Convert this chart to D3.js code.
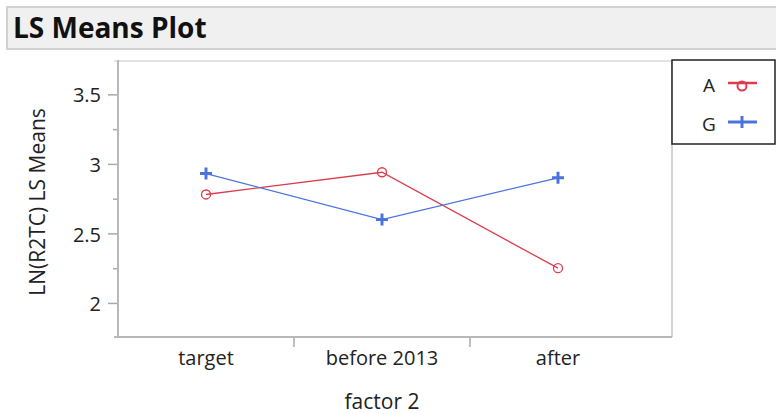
<!DOCTYPE html>
<html><head><meta charset="utf-8">
<script src="https://cdn.jsdelivr.net/npm/d3@7"></script>
<style>
body{margin:0;background:#fff;}
svg{display:block;font-family:"Open Sans",sans-serif;}
</style></head>
<body><svg id="c" width="776" height="414"></svg>
<script>
const categories = ["target", "before 2013", "after"];
const seriesNames = ["A", "G"];
const valuesA = [2.78, 2.94, 2.25];
const valuesG = [2.93, 2.60, 2.90];
const yTicks = [2, 2.5, 3, 3.5];
const yMinorTicks = [2.25, 2.75, 3.25];
const colors = {A: "#dc3c4c", G: "#4a74dc"};

(function(){
const svg = d3.select("#c");

// header bar
svg.append("rect").attr("x",7).attr("y",7).attr("width",775).attr("height",42)
  .attr("fill","#f0f0f0").attr("stroke","#d2d2d2").attr("stroke-width",2);
svg.append("text").attr("x",13).attr("y",38).attr("font-size",28).attr("font-weight","bold")
  .attr("fill","#111").text("LS Means Plot");

const pL = 118, pR = 672, pT = 61, pB = 337, bandRight = 646;
const x = d3.scaleBand().domain(categories).range([pL, bandRight]);
const y = d3.scaleLinear().domain([1.755, 3.74]).range([pB, pT]);

// frame
svg.append("line").attr("x1",114).attr("x2",pR).attr("y1",pT).attr("y2",pT).attr("stroke","#d8d8d8").attr("stroke-width",1.5);
svg.append("line").attr("x1",pR).attr("x2",pR).attr("y1",pT).attr("y2",pB).attr("stroke","#c4c4c4").attr("stroke-width",1.5);

// y axis
const yAxis = d3.axisLeft(y).tickValues(yTicks).tickSize(10).tickFormat(d3.format("~g"));
const gy = svg.append("g").attr("transform",`translate(${pL},0)`).call(yAxis);
gy.select(".domain").remove();
gy.selectAll(".tick line").attr("stroke","#aaa").attr("stroke-width",1.5);
gy.selectAll(".tick text").attr("font-size",20).attr("fill","#222").attr("font-family","Open Sans")
  .attr("dx",-4).attr("dy","0.38em");
const gym = svg.append("g").attr("transform",`translate(${pL},0)`)
  .call(d3.axisLeft(y).tickValues(yMinorTicks).tickSize(5).tickFormat(""));
gym.select(".domain").remove();
gym.selectAll(".tick line").attr("stroke","#aaa").attr("stroke-width",1.5);
svg.append("line").attr("x1",pL).attr("x2",pL).attr("y1",pT-1).attr("y2",pB+1).attr("stroke","#b8b8b8").attr("stroke-width",2);

// x axis
const gx = svg.append("g").attr("transform",`translate(0,${pB})`)
  .call(d3.axisBottom(x).tickSize(0));
gx.select(".domain").remove();
gx.selectAll(".tick text").attr("font-size",20).attr("fill","#222").attr("font-family","Open Sans")
  .attr("y",0).attr("dy",0).attr("transform","translate(0,28)");
const bounds = categories.slice(1).map(c => x(c));
svg.selectAll(".xsep").data(bounds).enter().append("line")
  .attr("x1",d=>d).attr("x2",d=>d).attr("y1",pB).attr("y2",pB+10)
  .attr("stroke","#aaa").attr("stroke-width",1.5);
svg.append("line").attr("x1",114).attr("x2",pR).attr("y1",pB).attr("y2",pB).attr("stroke","#b8b8b8").attr("stroke-width",2);

// axis titles
svg.append("text").attr("transform",`translate(45,${202}) rotate(-90)`)
  .attr("text-anchor","middle").attr("font-size",21).attr("fill","#222").text("LN(R2TC) LS Means");
svg.append("text").attr("x",(pL+bandRight)/2).attr("y",409).attr("text-anchor","middle")
  .attr("font-size",21).attr("fill","#222").text("factor 2");

// lines
const cx = c => x(c) + x.bandwidth()/2;
const line = d3.line().x(d=>cx(d.c)).y(d=>y(d.v));
const series = [
  {name:"A", vals: valuesA},
  {name:"G", vals: valuesG}
];
series.forEach(s => {
  const pts = categories.map((c,i)=>({c, v:s.vals[i]}));
  svg.append("path").datum(pts).attr("d",line).attr("fill","none")
    .attr("stroke",colors[s.name]).attr("stroke-width",1.3);
  pts.forEach(p => {
    const px = cx(p.c), py = y(p.v);
    if (s.name === "A") {
      svg.append("circle").attr("cx",px).attr("cy",py).attr("r",4.5)
        .attr("fill","none").attr("stroke",colors.A).attr("stroke-width",1.3);
    } else {
      svg.append("path").attr("d",`M${px-6},${py}H${px+6}M${px},${py-6}V${py+6}`)
        .attr("stroke",colors.G).attr("stroke-width",3);
    }
  });
});

// legend
svg.append("rect").attr("x",672).attr("y",60).attr("width",103).attr("height",84)
  .attr("fill","#fff").attr("stroke","#222").attr("stroke-width",1.5);
const lg = [{n:"A", y:85},{n:"G", y:124}];
lg.forEach(l => {
  svg.append("text").attr("x",709).attr("y",l.y+7).attr("text-anchor","middle")
    .attr("font-size",19).attr("fill","#222").text(l.n);
  svg.append("line").attr("x1",728).attr("x2",757).attr("y1",l.y-2).attr("y2",l.y-2)
    .attr("stroke",colors[l.n]).attr("stroke-width",l.n==="A"?2.5:3);
  if (l.n==="A") {
    svg.append("circle").attr("cx",742).attr("cy",l.y+1).attr("r",4.5).attr("fill","none")
      .attr("stroke",colors.A).attr("stroke-width",2);
  } else {
    svg.append("line").attr("x1",742).attr("x2",742).attr("y1",l.y-8).attr("y2",l.y+4)
      .attr("stroke",colors.G).attr("stroke-width",3);
  }
});
})();
</script></body></html>
